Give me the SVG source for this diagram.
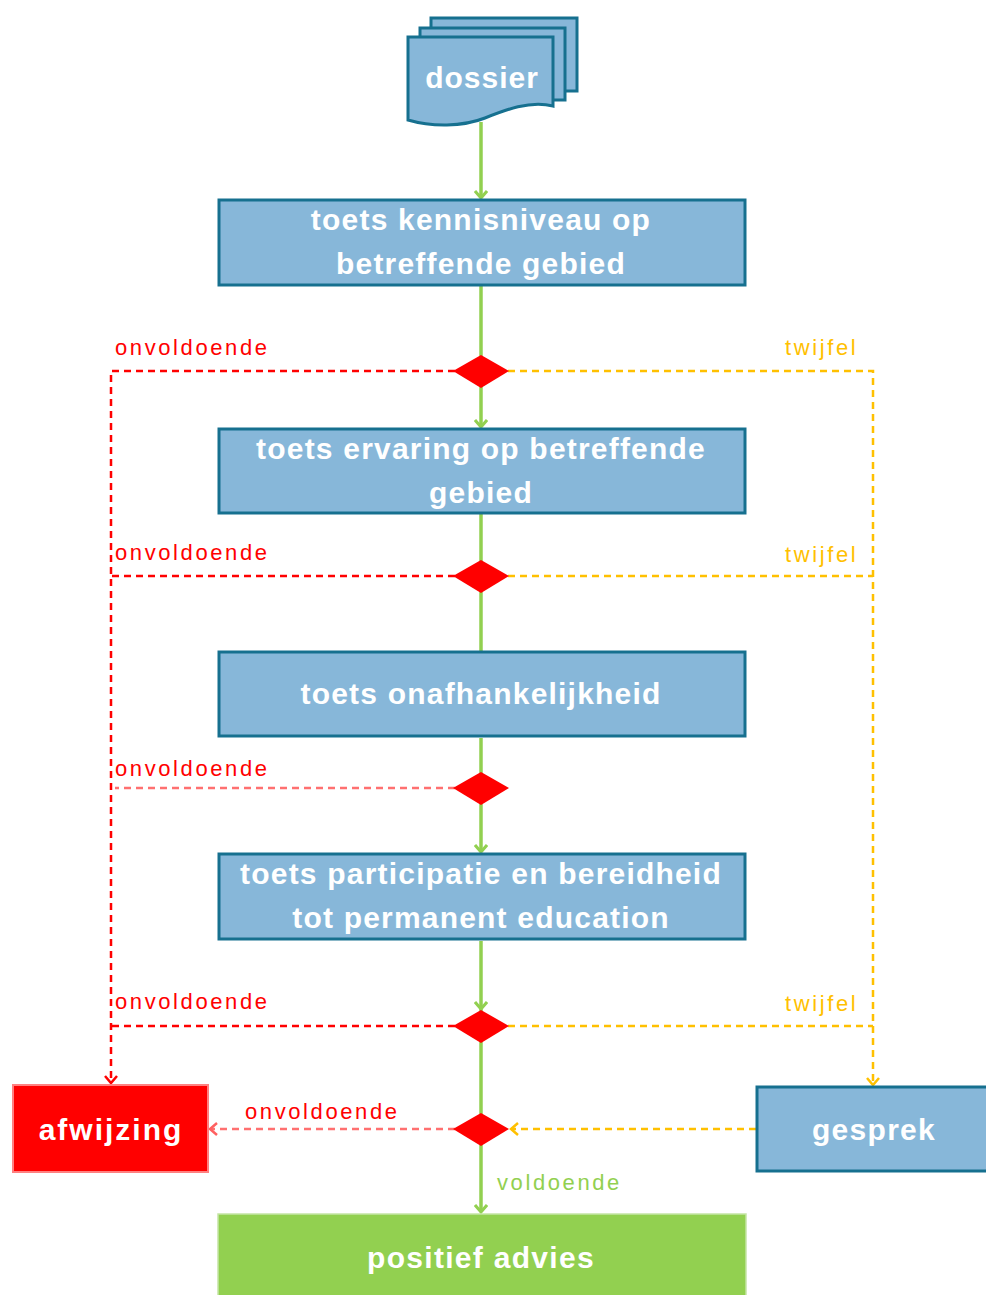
<svg xmlns="http://www.w3.org/2000/svg" width="986" height="1295" viewBox="0 0 986 1295">
<defs>
<marker id="ag" markerWidth="14" markerHeight="14" refX="12" refY="7" orient="auto" markerUnits="userSpaceOnUse" viewBox="0 0 14 14">
<polyline points="5,1 12,7 5,13" fill="none" stroke="#92d050" stroke-width="3"/>
</marker>
<marker id="ar" markerWidth="14" markerHeight="14" refX="12" refY="7" orient="auto" markerUnits="userSpaceOnUse" viewBox="0 0 14 14">
<polyline points="5,1 12,7 5,13" fill="none" stroke="#ff0000" stroke-width="2.5"/>
</marker>
<marker id="arl" markerWidth="14" markerHeight="14" refX="12" refY="7" orient="auto" markerUnits="userSpaceOnUse" viewBox="0 0 14 14">
<polyline points="5,1 12,7 5,13" fill="none" stroke="#ff6060" stroke-width="2.5"/>
</marker>
<marker id="ay" markerWidth="14" markerHeight="14" refX="12" refY="7" orient="auto" markerUnits="userSpaceOnUse" viewBox="0 0 14 14">
<polyline points="5,1 12,7 5,13" fill="none" stroke="#ffc000" stroke-width="2.5"/>
</marker>
</defs>
<style>
.box{fill:#87b7d9;stroke:#16708f;stroke-width:3}
.t{font-family:"Liberation Sans",Arial,sans-serif;font-weight:bold;fill:#fff;text-anchor:middle}
.big{font-size:30px;letter-spacing:1.2px}
.lbl{font-family:"Liberation Sans",Arial,sans-serif;font-size:22px;letter-spacing:2.6px}
.red{fill:#ff0000}
.yel{fill:#ffc000}
.grn{fill:#92d050}
.gl{fill:none;stroke:#92d050;stroke-width:3.5}
.rl{fill:none;stroke:#ff0000;stroke-width:2.5;stroke-dasharray:7 5}
.rll{fill:none;stroke:#ff7070;stroke-width:2.5;stroke-dasharray:7 5}
.yl{fill:none;stroke:#ffc000;stroke-width:2.5;stroke-dasharray:7 5}
.dia{fill:#ff0000}
</style>
<g id="connectors">
<line class="gl" x1="481" y1="122" x2="481" y2="198" marker-end="url(#ag)"/>
<line class="gl" x1="481" y1="286" x2="481" y2="427" marker-end="url(#ag)"/>
<line class="gl" x1="481" y1="514" x2="481" y2="651"/>
<line class="gl" x1="481" y1="738" x2="481" y2="852" marker-end="url(#ag)"/>
<line class="gl" x1="481" y1="941" x2="481" y2="1009" marker-end="url(#ag)"/>
<line class="gl" x1="481" y1="1008" x2="481" y2="1212" marker-end="url(#ag)"/>
<polyline class="rl" points="455,371 111,371 111,1083" marker-end="url(#ar)"/>
<line class="rl" x1="455" y1="576" x2="111" y2="576"/>
<line class="rll" x1="455" y1="788" x2="115" y2="788"/>
<line class="rl" x1="455" y1="1026" x2="111" y2="1026"/>
<line class="rll" x1="455" y1="1129" x2="210" y2="1129" marker-end="url(#arl)"/>
<polyline class="yl" points="508,371 873,371 873,1085" marker-end="url(#ay)"/>
<line class="yl" x1="508" y1="576" x2="873" y2="576"/>
<line class="yl" x1="508" y1="1026" x2="873" y2="1026"/>
<line class="yl" x1="756" y1="1129" x2="511" y2="1129" marker-end="url(#ay)"/>
<text class="lbl red" x="115" y="355">onvoldoende</text>
<text class="lbl yel" x="785" y="355">twijfel</text>
<text class="lbl red" x="115" y="560">onvoldoende</text>
<text class="lbl yel" x="785" y="562">twijfel</text>
<text class="lbl red" x="115" y="776">onvoldoende</text>
<text class="lbl red" x="115" y="1009">onvoldoende</text>
<text class="lbl yel" x="785" y="1011">twijfel</text>
<text class="lbl red" x="245" y="1119">onvoldoende</text>
<text class="lbl grn" x="497" y="1190">voldoende</text>
</g>
<g id="d1"><polygon class="dia" points="481,355 509,371 481,388 453,371"/></g>
<g id="d2"><polygon class="dia" points="481,560 509,576 481,593 453,576"/></g>
<g id="d3"><polygon class="dia" points="481,772 509,788 481,805 453,788"/></g>
<g id="d4"><polygon class="dia" points="481,1010 509,1026 481,1043 453,1026"/></g>
<g id="d5"><polygon class="dia" points="481,1113 509,1129 481,1146 453,1129"/></g>
<g id="dossier">
<rect class="box" x="431" y="18" width="146" height="73"/>
<rect class="box" x="420" y="28" width="145" height="72"/>
<path class="box" d="M408,37 H553 V106 C530,100 505,110 485,118 C462,127 432,127 408,120 Z"/>
<text class="t" x="482" y="88" font-size="30" letter-spacing="1">dossier</text>
</g>
<g id="b1">
<rect class="box" x="219" y="200" width="526" height="85"/>
<text class="t big" x="481" y="230">toets kennisniveau op</text>
<text class="t big" x="481" y="274">betreffende gebied</text>
</g>
<g id="b2">
<rect class="box" x="219" y="429" width="526" height="84"/>
<text class="t big" x="481" y="459">toets ervaring op betreffende</text>
<text class="t big" x="481" y="503">gebied</text>
</g>
<g id="b3">
<rect class="box" x="219" y="652" width="526" height="84"/>
<text class="t big" x="481" y="704">toets onafhankelijkheid</text>
</g>
<g id="b4">
<rect class="box" x="219" y="854" width="526" height="85"/>
<text class="t big" x="481" y="884">toets participatie en bereidheid</text>
<text class="t big" x="481" y="928">tot permanent education</text>
</g>
<g id="afwijzing">
<rect x="13" y="1085" width="195" height="87" fill="#ff0000" stroke="#ff8080" stroke-width="2"/>
<text class="t" x="111" y="1140" font-size="30" letter-spacing="2">afwijzing</text>
</g>
<g id="gesprek">
<rect class="box" x="757" y="1087" width="232" height="84"/>
<text class="t" x="874" y="1140" font-size="30" letter-spacing="1.3">gesprek</text>
</g>
<g id="positief">
<rect x="218" y="1214" width="528" height="84" fill="#92d050" stroke="#c5e5a5" stroke-width="1.5"/>
<text class="t" x="481" y="1268" font-size="30" letter-spacing="1.3">positief advies</text>
</g>
</svg>
